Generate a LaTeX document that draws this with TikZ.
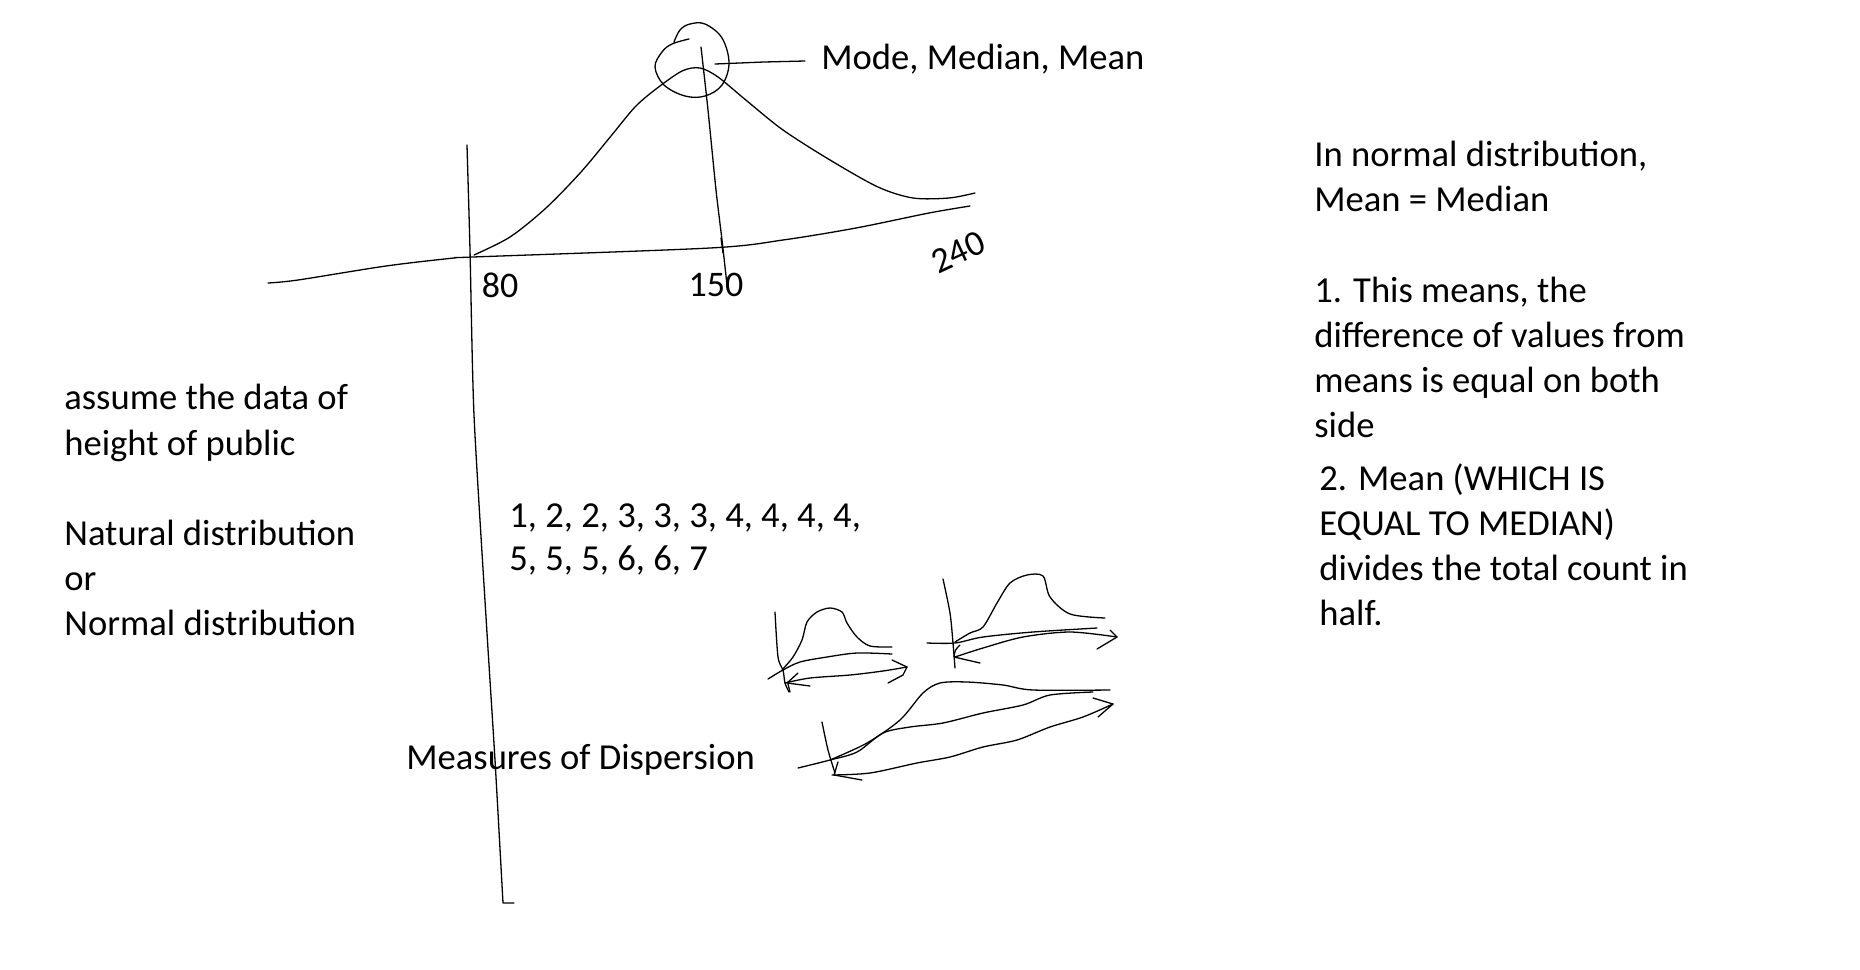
\documentclass[tikz,border=0pt]{standalone}
\usepackage{fontspec}
\setmainfont{Carlito}
\begin{document}
\begin{tikzpicture}[x=0.5pt,y=-0.5pt,
  pen/.style={line width=0.65pt, line join=round, line cap=round},
  txt/.style={anchor=base west, inner sep=0pt, font=\fontsize{18.3}{22.5}\selectfont},
  hand/.style={inner sep=0pt, font=\fontsize{18}{18}\selectfont}]
\useasboundingbox (0,0) rectangle (1860,970);
% main axes
\draw[pen] plot[smooth,tension=0.5] coordinates {(268,283) (298,280) (386,266) (454,258) (473,257) (710,248) (783,240) (856,228) (929,213) (970,206)};
\draw[pen] plot[smooth,tension=0.4] coordinates {(467,145) (470,250) (474,415) (486,617) (495,760) (503,903)} -- (514,903);
% bell curve
\draw[pen] plot[smooth,tension=0.5] coordinates {(474,255) (510,237) (546,208) (581,172) (611,136) (635,107) (656,89) (682,71) (700,68) (718,77) (747,101) (783,130) (830,160) (878,187) (913,198) (949,198) (975,193)};
% circle around the peak
\draw[pen] plot[smooth,tension=0.6] coordinates {(689,39) (672,44) (662,52) (655,67) (664,85) (685,96) (705,96) (722,85) (729,63) (722,38) (705,24) (690,24) (680,30) (674,42)};
% vertical line through the peak
\draw[pen] plot[smooth,tension=0.4] coordinates {(701,47) (708,110) (716,190) (722,240) (727,285)};
\draw[pen] (721,238) -- (723,253);
% connector to label
\node[txt] (mode) at (821,69) {Mode, Median, Mean};
\coordinate (ccon) at (715,64);
\draw[pen] (ccon) -- (764,62) -- ([xshift=-8pt]mode.west |- 0,61);
% handwritten axis labels
\node[hand] (l80) at (500,285) {80};
\node[hand] (l150) at (716,285) {150};
\node[hand, rotate=25] (l240) at (958,252) {240};
% texts
\node[txt] (rt1) at (1314,166) {In normal distribution,};
\node[txt] (rt2) at (1314,211) {Mean = Median};
\node[txt] (rt3) at (1314,302) {1. This means, the};
\node[txt] (rt4) at (1314,347) {difference of values from};
\node[txt] (rt5) at (1314,392) {means is equal on both};
\node[txt] (rt6) at (1314,437) {side};
\node[txt] (rs1) at (1319,490) {2. Mean (WHICH IS};
\node[txt] (rs2) at (1319,535) {EQUAL TO MEDIAN)};
\node[txt] (rs3) at (1319,580) {divides the total count in};
\node[txt] (rs4) at (1319,625) {half.};
\node[txt] (lt1) at (64,409) {assume the data of};
\node[txt] (lt2) at (64,455) {height of public};
\node[txt] (lt3) at (64,545) {Natural distribution};
\node[txt] (lt4) at (64,590) {or};
\node[txt] (lt5) at (64,635) {Normal distribution};
\node[txt] (nm1) at (509,527) {1, 2, 2, 3, 3, 3, 4, 4, 4, 4,};
\node[txt] (nm2) at (509,570) {5, 5, 5, 6, 6, 7};
\node[txt] (mod) at (406,769) {Measures of Dispersion};
% sketch A
\draw[pen] plot[smooth,tension=0.5] coordinates {(775,612) (778,657) (783,670) (785,683) (789,692)};
\draw[pen] plot[smooth,tension=0.5] coordinates {(782,670) (793,657) (802,640) (807,622) (817,612) (830,608) (842,612) (847,623) (857,637) (870,646) (892,647)};
\draw[pen] plot[smooth,tension=0.5] coordinates {(768,679) (783,670) (800,662) (827,657) (857,653) (892,654)};
\draw[pen] plot[smooth,tension=0.5] coordinates {(785,683) (810,678) (850,675) (883,671) (907,667)};
\draw[pen] (892,660) -- (907,667) -- (903,675) -- (888,683);
\draw[pen] (798,673) -- (787,683) -- (810,686);
\draw[pen] (788,684) -- (790,692);
% sketch B
\draw[pen] plot[smooth,tension=0.5] coordinates {(943,579) (950,613) (953,643) (955,668)};
\draw[pen] plot[smooth,tension=0.5] coordinates {(927,643) (955,643) (983,637) (1033,632) (1097,628)};
\draw[pen] plot[smooth,tension=0.5] coordinates {(955,642) (970,633) (983,627) (997,603) (1010,583) (1027,575) (1043,576) (1050,597) (1070,614) (1105,618)};
\draw[pen] plot[smooth,tension=0.5] coordinates {(955,657) (983,648) (1023,637) (1070,632) (1117,637)};
\draw[pen] (1110,630) -- (1117,637) -- (1097,649);
\draw[pen] (960,645) .. controls (955,650) .. (954,657) -- (980,663);
% sketch C
\draw[pen] plot[smooth,tension=0.5] coordinates {(822,722) (828,750) (835,773)};
\draw[pen] plot[smooth,tension=0.5] coordinates {(798,768) (830,760) (857,752) (883,733) (910,727) (943,723) (983,713) (1023,705) (1050,695) (1093,692)};
\draw[pen] plot[smooth,tension=0.5] coordinates {(830,760) (867,743) (900,720) (923,693) (940,683) (967,682) (1003,685) (1033,690) (1110,690)};
\draw[pen] plot[smooth,tension=0.5] coordinates {(832,775) (870,773) (917,763) (950,757) (983,747) (1017,740) (1050,727) (1083,717) (1113,704)};
\draw[pen] (1093,698) -- (1113,704) -- (1098,717);
\draw[pen] (838,762) -- (834,775) -- (862,780);
\end{tikzpicture}
\end{document}
